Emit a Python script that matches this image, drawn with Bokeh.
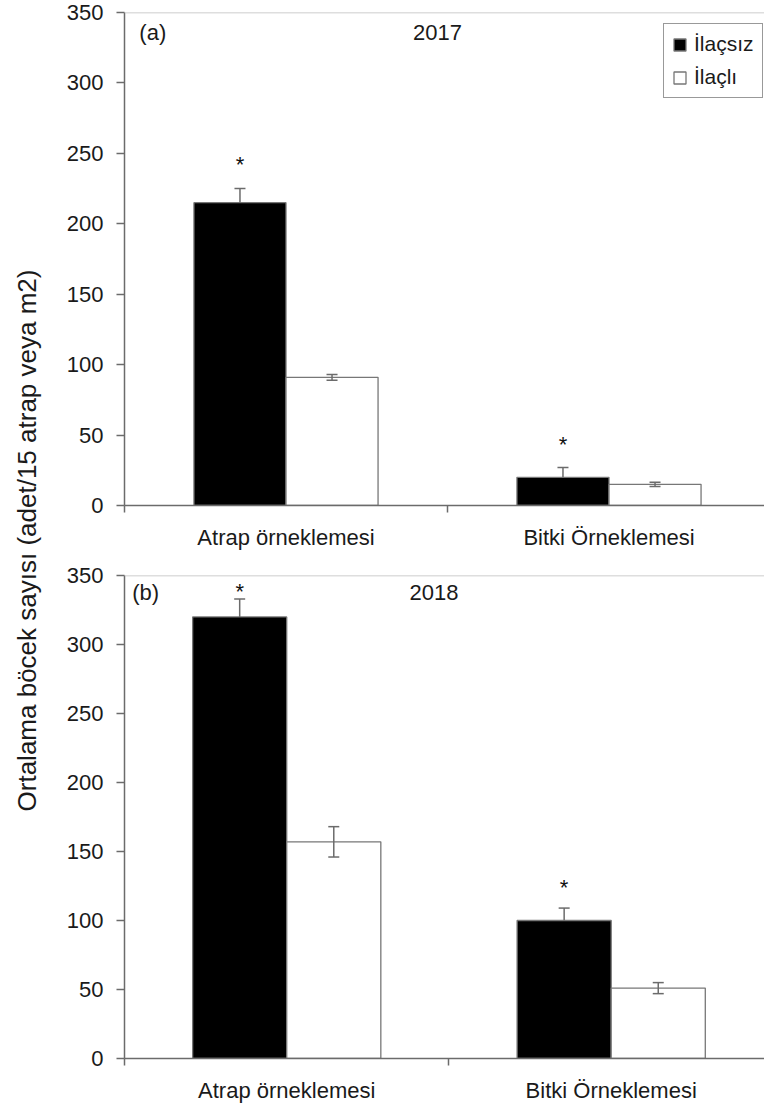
import math
from bokeh.plotting import figure
from bokeh.layouts import row, column
from bokeh.models import (ColumnDataSource, Range1d, FixedTicker, Whisker, TeeHead,
                          Span, Label, Legend, LegendItem)
from bokeh.core.properties import value
from bokeh.embed import file_html
from bokeh.resources import INLINE

# ---------------- data ----------------
categories = ["Atrap örneklemesi", "Bitki Örneklemesi"]
series_names = ["İlaçsız", "İlaçlı"]
yticks = [0, 50, 100, 150, 200, 250, 300, 350]

ilacsiz_2017 = [215, 20]
ilacsiz_err_2017 = [10, 7]
ilacli_2017 = [91, 15]
ilacli_err_2017 = [2, 1.5]
sig_2017 = ["*", "*"]
sig_level_2017 = [245, 46]

ilacsiz_2018 = [320, 100]
ilacsiz_err_2018 = [13, 9]
ilacli_2018 = [157, 51]
ilacli_err_2018 = [11, 4]
sig_2018 = ["*", "*"]
sig_level_2018 = [341, 127]

FONT = "Liberation Sans"
AX = "#6b6b6b"


def panel(width, height, left, top, bottom, px_per_group, bar_w,
          black, black_err, white, white_err, sig, sig_level, tag, year,
          tag_x, year_x, text_y, legend=False):
    frame_w = width - left
    p = figure(width=width, height=height, output_backend="svg", toolbar_location=None,
               min_border_left=left, min_border_right=0, min_border_top=top,
               min_border_bottom=bottom, title=None,
               x_range=Range1d(0, frame_w / px_per_group), y_range=Range1d(0, 350))
    p.outline_line_color = None
    p.xgrid.visible = False
    p.ygrid.visible = False
    p.background_fill_color = "white"
    p.border_fill_color = "white"

    xs = [i + 0.5 for i in range(len(categories))]
    src_b = ColumnDataSource(dict(x=[x - bar_w / 2 for x in xs], top=black,
                                  upper=[v + e for v, e in zip(black, black_err)],
                                  lower=black))
    src_w = ColumnDataSource(dict(x=[x + bar_w / 2 for x in xs], top=white,
                                  upper=[v + e for v, e in zip(white, white_err)],
                                  lower=[v - e for v, e in zip(white, white_err)]))
    rb = p.vbar(x="x", top="top", width=bar_w, source=src_b, fill_color="black",
                line_color="#777777", line_width=1.3)
    rw = p.vbar(x="x", top="top", width=bar_w, source=src_w, fill_color="white",
                line_color="#777777", line_width=1.3)

    p.add_layout(Whisker(base="x", upper="upper", lower="lower", source=src_b,
                         line_color=AX, line_width=1.5, lower_head=None, level="overlay",
                         upper_head=TeeHead(size=11, line_color=AX, line_width=1.5)))
    p.add_layout(Whisker(base="x", upper="upper", lower="lower", source=src_w,
                         line_color=AX, line_width=1.5, level="overlay",
                         upper_head=TeeHead(size=11, line_color=AX, line_width=1.5),
                         lower_head=TeeHead(size=11, line_color=AX, line_width=1.5)))

    src_s = ColumnDataSource(dict(x=[x - bar_w / 2 for x in xs], y=sig_level, t=sig))
    p.text(x="x", y="y", text="t", source=src_s, text_font=value(FONT),
           text_font_size="22px", text_color="#111111", text_align="center",
           text_baseline="alphabetic", y_offset=4)

    p.add_layout(Span(location=350, dimension="width", line_color="#bdbdbd", line_width=1.5))

    # axes
    p.yaxis.ticker = FixedTicker(ticks=yticks)
    p.yaxis.axis_line_color = AX
    p.yaxis.axis_line_width = 1.5
    p.yaxis.major_tick_line_color = AX
    p.yaxis.major_tick_line_width = 1.5
    p.yaxis.major_tick_out = 8
    p.yaxis.major_tick_in = 0
    p.yaxis.minor_tick_line_color = None
    p.yaxis.major_label_text_font = FONT
    p.yaxis.major_label_text_font_size = "22px"
    p.yaxis.major_label_text_color = "#1a1a1a"
    p.yaxis.major_label_standoff = 13

    p.xaxis.ticker = FixedTicker(ticks=xs, minor_ticks=list(range(len(categories) + 1)))
    p.xaxis.major_label_overrides = {x: c for x, c in zip(xs, categories)}
    p.xaxis.axis_line_color = AX
    p.xaxis.axis_line_width = 1.5
    p.xaxis.major_tick_line_color = None
    p.xaxis.major_tick_out = 0
    p.xaxis.major_tick_in = 0
    p.xaxis.minor_tick_line_color = AX
    p.xaxis.minor_tick_line_width = 1.5
    p.xaxis.minor_tick_out = 7
    p.xaxis.minor_tick_in = 0
    p.xaxis.major_label_text_font = FONT
    p.xaxis.major_label_text_font_size = "22px"
    p.xaxis.major_label_text_color = "#1a1a1a"
    p.xaxis.major_label_standoff = 12

    p.add_layout(Label(x=tag_x, y=text_y, text=tag, text_font=FONT, text_font_size="22px",
                       text_color="#1a1a1a", text_align="left", text_baseline="middle"))
    p.add_layout(Label(x=year_x, y=text_y, text=year, text_font=FONT, text_font_size="22px",
                       text_color="#1a1a1a", text_align="center", text_baseline="middle"))

    if legend:
        lg = Legend(items=[LegendItem(label=series_names[0], renderers=[rb]),
                           LegendItem(label=series_names[1], renderers=[rw])],
                    location=(539, 407))
        lg.label_text_font = FONT
        lg.label_text_font_size = "21px"
        lg.label_text_color = "#1a1a1a"
        lg.glyph_width = 15
        lg.glyph_height = 15
        lg.label_standoff = 7
        lg.padding = 8
        lg.spacing = 9
        lg.border_line_color = "#333333"
        lg.border_line_width = 1.5
        lg.background_fill_alpha = 1
        p.add_layout(lg, "center")
    return p


top = panel(714, 560, 74, 12, 55, 323, 0.285,
            ilacsiz_2017, ilacsiz_err_2017, ilacli_2017, ilacli_err_2017,
            sig_2017, sig_level_2017, "(a)", "2017", 0.046, 0.969, 336, legend=True)
bottom = panel(714, 553, 69, 15, 55, 327, 0.29,
               ilacsiz_2018, ilacsiz_err_2018, ilacli_2018, ilacli_err_2018,
               sig_2018, sig_level_2018, "(b)", "2018", 0.024, 0.954, 338)

lab = figure(width=50, height=1113, output_backend="svg", toolbar_location=None,
             x_axis_type=None, y_axis_type=None, min_border=0, title=None,
             x_range=Range1d(0, 50), y_range=Range1d(0, 1113))
lab.outline_line_color = None
lab.text(x=[26], y=[1113 - 540], text=["Ortalama böcek sayısı (adet/15 atrap veya m2)"],
         angle=math.pi / 2, text_font=value(FONT), text_font_size="26px",
         text_color="#1a1a1a", text_align="center", text_baseline="middle")

layout = row(lab, column(top, bottom, spacing=0), spacing=0)

open("out.html", "w").write(file_html(layout, INLINE))
